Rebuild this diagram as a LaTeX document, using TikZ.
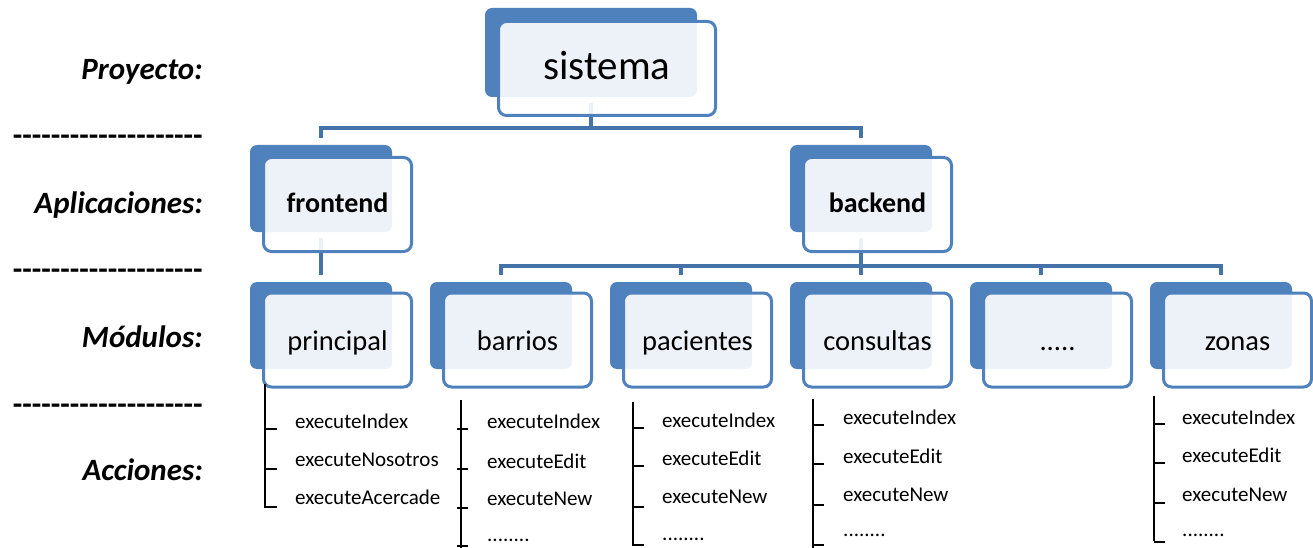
\documentclass[tikz,border=0pt]{standalone}
\usepackage{fontspec}
\setmainfont{Carlito}
\definecolor{boxblue}{RGB}{79,129,189}
\definecolor{linkblue}{RGB}{70,114,170}
\newcommand\dashrow{\foreach \i in {1,...,20}{-\kern0pt}}

\begin{document}
\begin{tikzpicture}[x=1pt,y=-1pt,
  backbox/.style={fill=boxblue, rounded corners=7pt, minimum width=142pt,
    minimum height=87pt, inner sep=0pt, outer sep=0pt},
  frontbox/.style={draw=boxblue, line width=3pt, fill=white, fill opacity=0.9,
    text opacity=1, rounded corners=8pt, minimum width=148pt,
    minimum height=94pt, inner sep=0pt, text depth=0pt},
  link/.style={draw=linkblue, line width=4pt},
  rowlabel/.style={anchor=east, inner sep=0pt,
    font=\fontsize{31}{36}\selectfont\bfseries\itshape},
  sepline/.style={anchor=east, inner sep=0pt,
    font=\fontsize{31}{36}\selectfont\bfseries},
  appfont/.style={font=\fontsize{28}{32}\selectfont\bfseries, text height=16pt},
  modfont/.style={font=\fontsize{28.5}{32}\selectfont, text height=21.5pt},
  item/.style={anchor=west, inner sep=0pt, font=\fontsize{21}{25}\selectfont},
  bracket/.style={draw=black, line width=2pt}
]
\useasboundingbox (0,0) rectangle (1313,548);

% row labels and separators
\node[rowlabel] (lproy) at (203,72) {Proyecto:};
\node[rowlabel] (lapp)  at (203,205) {Aplicaciones:};
\node[rowlabel] (lmod)  at (203,337) {Módulos:};
\node[rowlabel] (lacc)  at (203,470) {Acciones:};
\node[sepline] (sep1) at (203,140) {\dashrow};
\node[sepline] (sep2) at (203,274) {\dashrow};
\node[sepline] (sep3) at (203,409) {\dashrow};

% back (filled) shapes
\node[backbox, minimum width=212pt, minimum height=89pt] (sisB) at (591,52.5) {};
\node[backbox] (feB) at (321,188.5) {};
\node[backbox] (beB) at (861,188.5) {};
\node[backbox] (prB) at (321,325.5) {};
\node[backbox] (baB) at (501,325.5) {};
\node[backbox] (paB) at (681,325.5) {};
\node[backbox] (coB) at (861,325.5) {};
\node[backbox] (ddB) at (1041,325.5) {};
\node[backbox] (zoB) at (1221,325.5) {};

% tree connectors
\draw[link] ([yshift=-6pt]sisB.south) -- ++(0,25) -| ([yshift=7pt]feB.north);
\draw[link] ([yshift=-6pt]sisB.south) -- ++(0,25) -| ([yshift=7pt]beB.north);
\draw[link] ([yshift=-6pt]feB.south) -- ([yshift=7pt]prB.north);
\foreach \c in {baB,paB,coB,ddB,zoB}
  \draw[link] ([yshift=-6pt]beB.south) -- ++(0,28) -| ([yshift=7pt]\c.north);

% front (outlined) shapes with their titles
\node[frontbox, minimum width=217pt, text height=23pt,
  font=\fontsize{41}{46}\selectfont] (sis) at (607,68.5) {sistema};
\node[frontbox, appfont] (fe) at (337.5,204.5) {frontend};
\node[frontbox, appfont] (be) at (877.5,204.5) {backend};
\node[frontbox, modfont] (pr) at (337.5,340) {principal};
\node[frontbox, modfont] (ba) at (517.5,340) {barrios};
\node[frontbox, modfont] (pa) at (697.5,340) {pacientes};
\node[frontbox, modfont] (co) at (877.5,340) {consultas};
\node[frontbox, modfont] (dd) at (1057.5,340) {.....};
\node[frontbox, modfont] (zo) at (1237.5,340) {zonas};

% actions: principal
\coordinate (prT) at (265,384);
\coordinate (prE) at (265,508);
\draw[bracket] (prT) -- (prE);
\foreach \y in {429,469,507} \draw[bracket] (265,\y) -- ++(12,0);
\node[item] (pr1) at (295,421) {executeIndex};
\node[item] (pr2) at (295,460) {executeNosotros};
\node[item] (pr3) at (295,497) {executeAcercade};

% actions: barrios
\coordinate (baT) at (461,400);
\coordinate (baE) at (461,548);
\draw[bracket] (baT) -- (baE);
\foreach \y in {429,469,508,546} \draw[bracket] (457,\y) -- ++(11,0);
\node[item] (ba1) at (487,421) {executeIndex};
\node[item] (ba2) at (487,461) {executeEdit};
\node[item] (ba3) at (487,499) {executeNew};
\node[item] (ba4) at (487,540) {........};

% actions: pacientes
\coordinate (paT) at (633,402);
\coordinate (paE) at (633,546);
\draw[bracket] (paT) -- (paE);
\foreach \y in {428,466,507,545} \draw[bracket] (633,\y) -- ++(11,0);
\node[item] (pa1) at (662,420) {executeIndex};
\node[item] (pa2) at (662,458) {executeEdit};
\node[item] (pa3) at (662,497) {executeNew};
\node[item] (pa4) at (662,539) {........};

% actions: consultas
\coordinate (coT) at (813,399);
\coordinate (coE) at (813,548);
\draw[bracket] (coT) -- (coE);
\foreach \y in {425,464,505,545} \draw[bracket] (813,\y) -- ++(11,0);
\node[item] (co1) at (843,417) {executeIndex};
\node[item] (co2) at (843,456) {executeEdit};
\node[item] (co3) at (843,495) {executeNew};
\node[item] (co4) at (843,535) {........};

% actions: zonas
\coordinate (zoT) at (1154,396);
\coordinate (zoE) at (1154,541);
\draw[bracket] (zoT) -- (zoE);
\foreach \y in {424,463,503,542} \draw[bracket] (1154,\y) -- ++(11,0);
\node[item] (zo1) at (1182,417) {executeIndex};
\node[item] (zo2) at (1182,455) {executeEdit};
\node[item] (zo3) at (1182,495) {executeNew};
\node[item] (zo4) at (1182,535) {........};
\end{tikzpicture}
\end{document}
